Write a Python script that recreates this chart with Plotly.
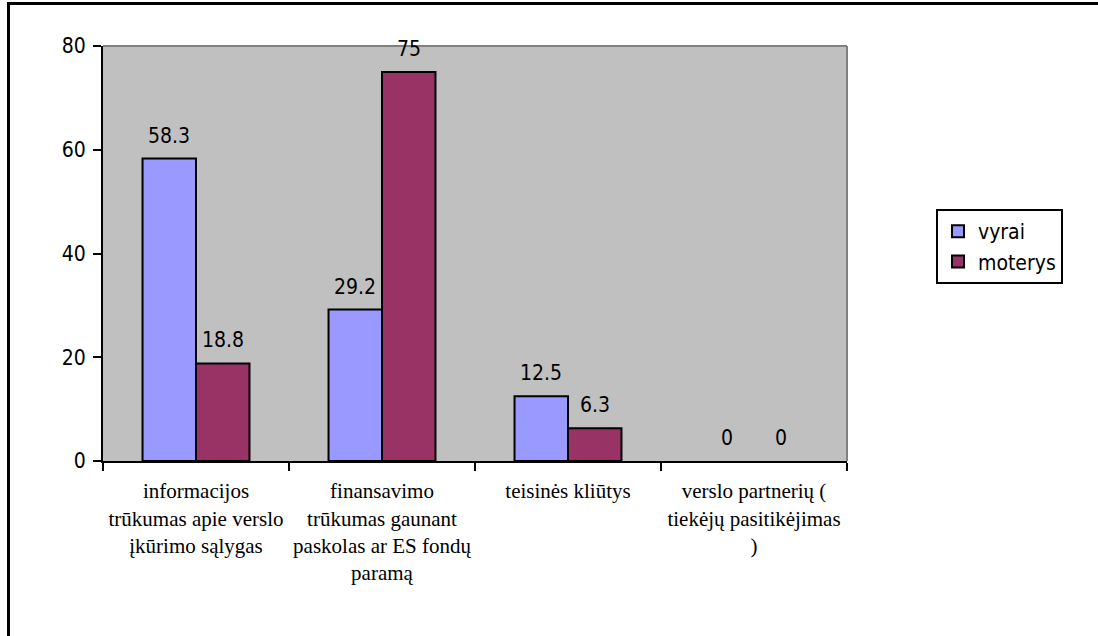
import plotly.graph_objects as go

categories = [
    "informacijos<br>trūkumas apie verslo<br>įkūrimo sąlygas",
    "finansavimo<br>trūkumas gaunant<br>paskolas ar ES fondų<br>paramą",
    "teisinės kliūtys",
    "verslo partnerių (<br>tiekėjų pasitikėjimas<br>)",
]
vyrai = [58.3, 29.2, 12.5, 0]
moterys = [18.8, 75, 6.3, 0]
y_ticks = [0, 20, 40, 60, 80]

SANS = "DejaVu Sans Condensed, Liberation Sans, sans-serif"
SERIF = "Liberation Serif, Times New Roman, serif"

L, R, T, B = 103, 251, 46, 175
W, H = 1098 - L - R, 636 - T - B
BARGAP = 0.425
bar_w = W / len(categories) * (1 - BARGAP) / 2


def px_x(p):
    return (p - L) / W


def px_y(p):
    return (636 - B - p) / H


series = [("vyrai", vyrai, "#9999FF", -1), ("moterys", moterys, "#993366", 1)]

fig = go.Figure()
annotations = []
for name, vals, color, side in series:
    fig.add_trace(go.Bar(
        name=name, x=categories, y=vals,
        marker=dict(color=color,
                    line=dict(color="black", width=[2 if v else 0 for v in vals])),
        cliponaxis=False,
    ))
    for c, v in zip(categories, vals):
        annotations.append(dict(
            x=c, y=v, xref="x", yref="y", text=f"{v:g}", showarrow=False,
            xanchor="center", yanchor="bottom", xshift=side * bar_w / 2, yshift=9,
            font=dict(family=SANS, size=21, color="black"),
        ))

fig.update_layout(
    width=1098, height=636,
    margin=dict(l=L, r=R, t=T, b=B, autoexpand=False),
    paper_bgcolor="white", plot_bgcolor="#C0C0C0",
    barmode="group", bargap=BARGAP, bargroupgap=0,
    showlegend=True,
    legend=dict(
        x=px_x(936), y=px_y(209), xanchor="left", yanchor="top",
        bordercolor="black", borderwidth=2, bgcolor="white",
        font=dict(family=SANS, size=21, color="black"),
        itemwidth=30, tracegroupgap=0,
    ),
    xaxis=dict(
        showgrid=False, showline=True, linecolor="black", linewidth=2,
        ticks="outside", ticklen=8, tickwidth=2, tickcolor="black",
        tickson="boundaries", ticklabelstandoff=10, tickangle=0,
        tickfont=dict(family=SERIF, size=21, color="black"),
    ),
    yaxis=dict(
        range=[0, 80], tickvals=y_ticks, showgrid=False,
        showline=True, linecolor="black", linewidth=2,
        ticks="outside", ticklen=8, tickwidth=2, tickcolor="black",
        ticklabelstandoff=3,
        tickfont=dict(family=SANS, size=21, color="black"),
        zeroline=False,
    ),
    annotations=annotations,
    shapes=[
        dict(type="line", xref="paper", yref="paper", x0=0, x1=1, y0=1, y1=1,
             line=dict(color="#808080", width=2)),
        dict(type="line", xref="paper", yref="paper", x0=1, x1=1, y0=0, y1=1,
             line=dict(color="#808080", width=2)),
        dict(type="rect", xref="paper", yref="paper",
             x0=px_x(8.5), x1=px_x(1110), y0=px_y(660), y1=px_y(3.5),
             line=dict(color="black", width=3)),
    ],
)

fig.write_html("out.html")
